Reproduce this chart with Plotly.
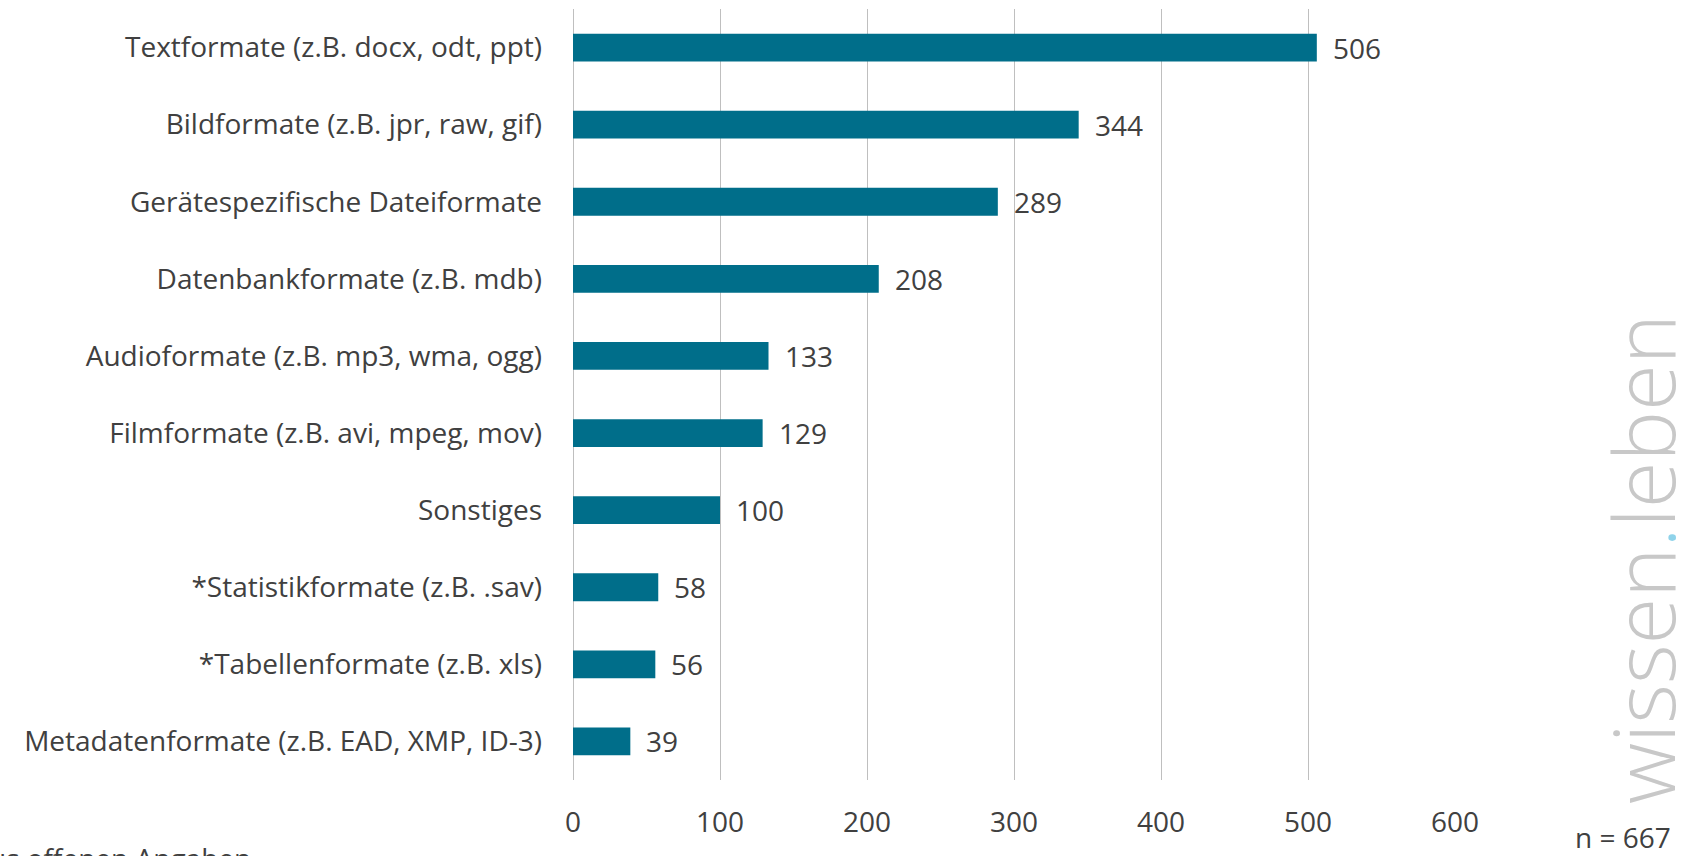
import plotly.graph_objects as go

categories = [
    "Textformate (z.B. docx, odt, ppt)",
    "Bildformate (z.B. jpr, raw, gif)",
    "Gerätespezifische Dateiformate",
    "Datenbankformate (z.B. mdb)",
    "Audioformate (z.B. mp3, wma, ogg)",
    "Filmformate (z.B. avi, mpeg, mov)",
    "Sonstiges",
    "*Statistikformate (z.B. .sav)",
    "*Tabellenformate (z.B. xls)",
    "Metadatenformate (z.B. EAD, XMP, ID-3)",
]
values = [506, 344, 289, 208, 133, 129, 100, 58, 56, 39]
x_ticks = [0, 100, 200, 300, 400, 500, 600]

FONT = "Open Sans"
FS = 28
TXT = "#404040"
BAR = "#006E8A"

fig = go.Figure()
fig.add_trace(go.Bar(
    x=values, y=categories, orientation="h",
    marker=dict(color=BAR, line=dict(width=0)),
    hoverinfo="x+y",
))

for v, c in zip(values, categories):
    fig.add_annotation(x=v, y=c, text=str(v), showarrow=False,
                       xanchor="left", xshift=14,
                       font=dict(family=FONT, size=FS, color=TXT))

fig.add_annotation(xref="paper", yref="paper", x=1.19, y=-0.074,
                   text="n = 667", showarrow=False, xanchor="center", yanchor="middle",
                   font=dict(family=FONT, size=FS, color=TXT))
fig.add_annotation(xref="paper", yref="paper", x=-0.363, y=-0.074,
                   text="*aus offenen Angaben", showarrow=False, xanchor="right", yanchor="top",
                   font=dict(family=FONT, size=FS, color=TXT))
fig.add_annotation(xref="paper", yref="paper", x=1.213, y=0.286,
                   text="wissen<span style='color:#8FD3EA'>.</span>leben", showarrow=False,
                   textangle=-90, xanchor="center", yanchor="middle",
                   font=dict(family=FONT, size=85, color="#C8C8C8", weight=300))

fig.update_layout(
    width=1688, height=856,
    margin=dict(l=573, r=233, t=9, b=76),
    paper_bgcolor="white", plot_bgcolor="white",
    bargap=0.64, showlegend=False,
    font=dict(family=FONT, size=FS, color=TXT),
    xaxis=dict(range=[0, 600], tickvals=x_ticks, showgrid=True, gridcolor="#BFBFBF",
               gridwidth=1.3, zeroline=True, zerolinecolor="#BFBFBF", zerolinewidth=1.3,
               showline=False, ticks="", ticklabelstandoff=23,
               tickfont=dict(family=FONT, size=FS, color=TXT)),
    yaxis=dict(autorange="reversed", showgrid=False, showline=False, ticks="",
               ticklabelstandoff=30, tickfont=dict(family=FONT, size=FS, color=TXT)),
)
fig.write_html("out.html", config={"displayModeBar": False},
               post_script="document.body.style.margin='0';document.body.style.overflow='hidden';")
